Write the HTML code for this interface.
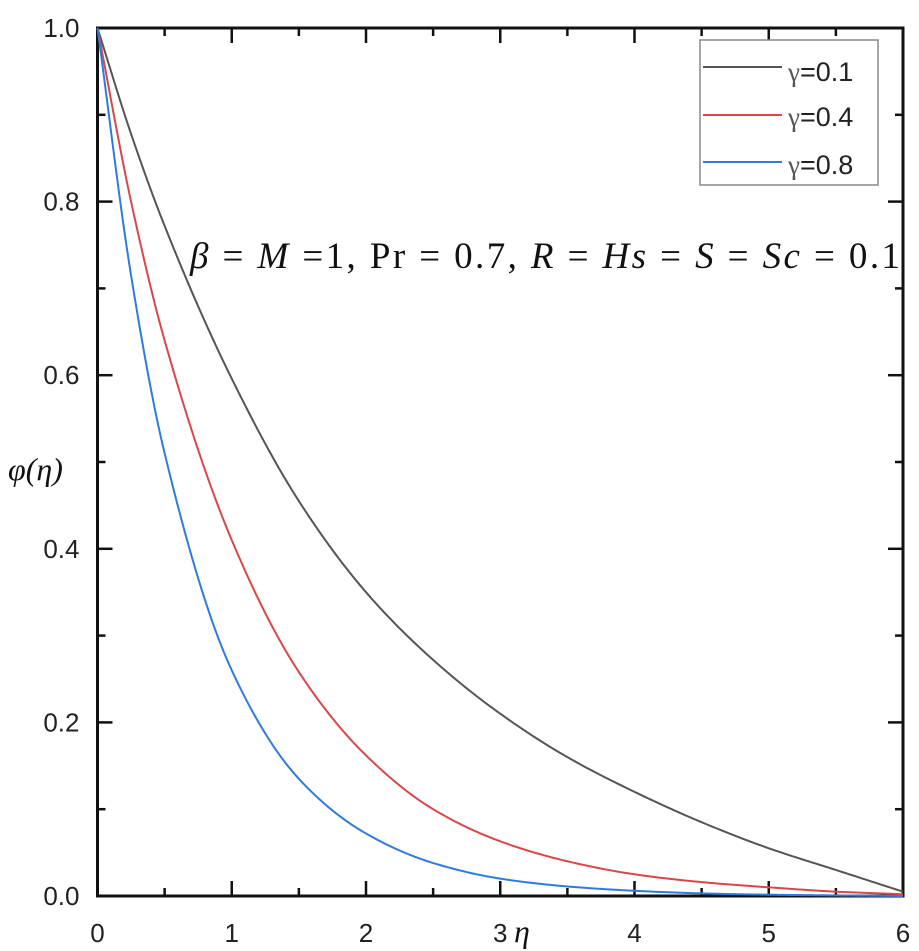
<!DOCTYPE html>
<html><head><meta charset="utf-8"><style>
body{margin:0;background:#fff;}
svg{display:block;font-family:"Liberation Sans",sans-serif;}
</style></head><body>
<svg width="919" height="951" id="c">
<g id="axes"></g>
<g id="lines"></g>
<g>
<rect x="700" y="40" width="178" height="145" fill="#fff" stroke="#888" stroke-width="1.5"/>
<line x1="703" y1="67" x2="782" y2="67" stroke="#555" stroke-width="2"/>
<text x="788" y="81" font-size="27" fill="#222"><tspan font-family="Liberation Serif" fill="#555">γ</tspan>=0.1</text>
<line x1="703" y1="115" x2="782" y2="115" stroke="#d9474a" stroke-width="2"/>
<text x="788" y="126" font-size="27" fill="#222"><tspan font-family="Liberation Serif" fill="#555">γ</tspan>=0.4</text>
<line x1="703" y1="162" x2="782" y2="162" stroke="#2f7bdc" stroke-width="2"/>
<text x="788" y="174" font-size="27" fill="#222"><tspan font-family="Liberation Serif" fill="#555">γ</tspan>=0.8</text>
</g>
<text x="190" y="268" font-family="Liberation Serif" font-size="37" fill="#111" textLength="710" lengthAdjust="spacing"><tspan font-style="italic">β</tspan> = <tspan font-style="italic">M</tspan> =1, Pr = 0.7, <tspan font-style="italic">R</tspan> = <tspan font-style="italic">Hs</tspan> = <tspan font-style="italic">S</tspan> = <tspan font-style="italic">Sc</tspan> = 0.1</text>
<text x="8" y="480" font-family="Liberation Serif" font-size="32" font-style="italic" fill="#111">φ(η)</text>
<text x="514" y="942" font-family="Liberation Serif" font-size="32" font-style="italic" fill="#111">η</text>
</svg>
<script>
const etaValues=[0,0.25,0.5,1,1.5,2,2.5,3,3.5,4,4.5,5,5.5,6];
const gamma01=[1,0.878,0.772,0.596,0.455,0.35,0.272,0.21,0.16,0.12,0.085,0.055,0.03,0.005];
const gamma04=[1,0.80,0.64,0.41,0.258,0.162,0.1,0.063,0.04,0.025,0.016,0.01,0.005,0.002];
const gamma08=[1,0.715,0.51,0.26,0.135,0.072,0.038,0.02,0.011,0.006,0.003,0.0015,0.0007,0];
const xTicks=[0,1,2,3,4,5,6];
const yTicks=[0,0.2,0.4,0.6,0.8,1.0];
const yTickLabels=["0.0","0.2","0.4","0.6","0.8","1.0"];
const L=97.5,R=903,T=28,B=896;
const X=v=>L+(v-0)/6*(R-L);
const Y=v=>B-(v-0)/1*(B-T);
const NS="http://www.w3.org/2000/svg";
const axes=document.getElementById('axes'),lines=document.getElementById('lines');
function mk(tag,at,parent){const e=document.createElementNS(NS,tag);for(const k in at)e.setAttribute(k,at[k]);parent.appendChild(e);return e;}
const frame=mk('rect',{x:L,y:T,width:R-L,height:B-T,fill:'none',stroke:'#111','stroke-width':3},axes);


for(let i=0;i<=12;i++){const v=i*0.5,major=i%2===0,len=major?15:8;
 const t1=mk('line',{x1:X(v),x2:X(v),y1:B,y2:B-len,stroke:'#111','stroke-width':2.5},axes);
 
 
 const t2=mk('line',{x1:X(v),x2:X(v),y1:T,y2:T+len,stroke:'#111','stroke-width':2.5},axes);
 
 }
for(let i=0;i<=10;i++){const v=i*0.1,major=i%2===0,len=major?15:8;
 const t1=mk('line',{x1:L,x2:L+len,y1:Y(v),y2:Y(v),stroke:'#111','stroke-width':2.5},axes);
 
 
 const t2=mk('line',{x1:R,x2:R-len,y1:Y(v),y2:Y(v),stroke:'#111','stroke-width':2.5},axes);
 
 }
xTicks.forEach(v=>{const t=mk('text',{x:X(v),y:B+46,'text-anchor':'middle','font-size':26,fill:'#222'},axes);t.textContent=String(v);
 
 });
yTicks.forEach((v,i)=>{const t=mk('text',{x:L-18,y:Y(v)+9,'text-anchor':'end','font-size':26,fill:'#222'},axes);t.textContent=yTickLabels[i];
 
 });
function path(xs,ys){const n=xs.length,d=[],m=new Array(n);
 for(let i=0;i<n-1;i++)d.push((ys[i+1]-ys[i])/(xs[i+1]-xs[i]));
 m[0]=d[0];m[n-1]=d[n-2];
 for(let i=1;i<n-1;i++){if(d[i-1]*d[i]<=0)m[i]=0;else{const h0=xs[i]-xs[i-1],h1=xs[i+1]-xs[i];const w1=2*h1+h0,w2=h1+2*h0;m[i]=(w1+w2)/(w1/d[i-1]+w2/d[i]);}}
 let s='';
 for(let i=0;i<n-1;i++){const h=xs[i+1]-xs[i];
  for(let k=0;k<=20;k++){if(i>0&&k===0)continue;const t=k/20,t2=t*t,t3=t2*t;
   const y=(2*t3-3*t2+1)*ys[i]+(t3-2*t2+t)*h*m[i]+(-2*t3+3*t2)*ys[i+1]+(t3-t2)*h*m[i+1];
   const x=xs[i]+t*h;s+=(s?' L':'M')+X(x).toFixed(2)+','+Y(y).toFixed(2);}}
 return s;}
[[gamma01,'#555','curve-gamma-0.1'],[gamma04,'#d9474a','curve-gamma-0.4'],[gamma08,'#2f7bdc','curve-gamma-0.8']].forEach(s=>{
 const e=mk('path',{d:path(etaValues,s[0]),fill:'none',stroke:s[1],'stroke-width':2},lines);
 
 });
</script>
</body></html>
